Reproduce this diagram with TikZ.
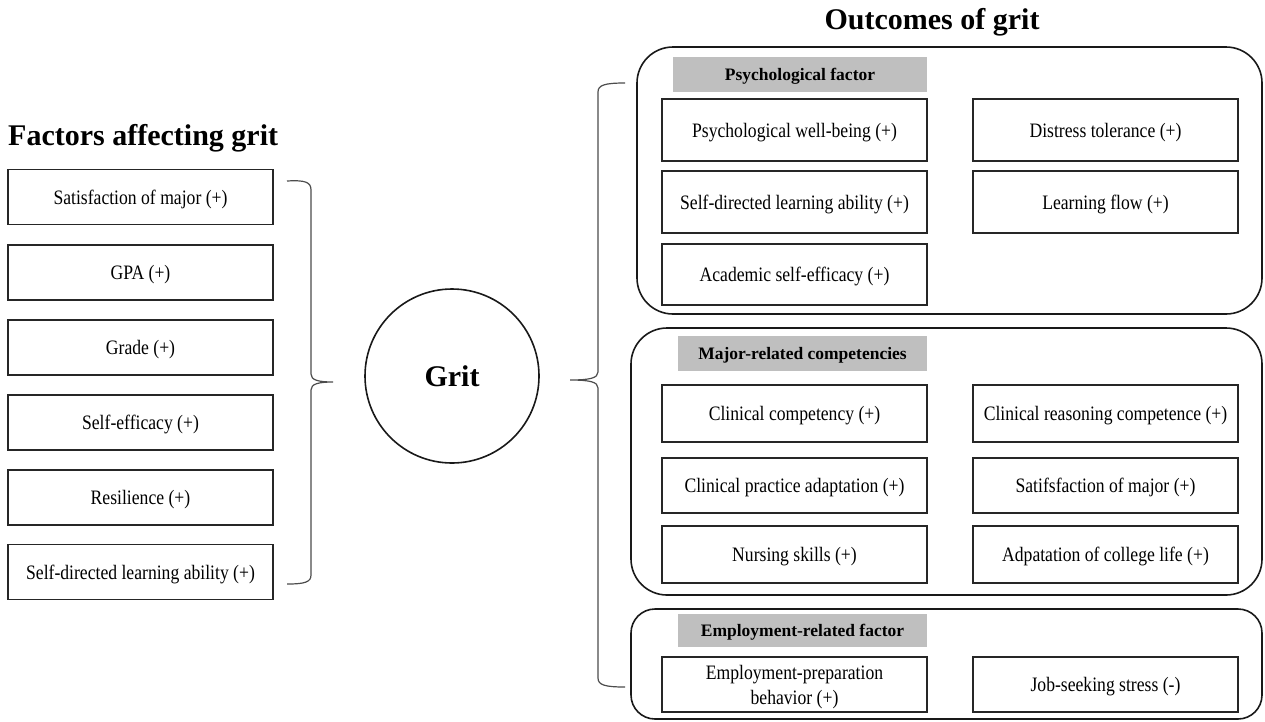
\documentclass[tikz,border=0pt]{standalone}
\usepackage{fontspec}
\setmainfont{Liberation Serif}
\newfontfamily\condserif[FakeStretch=0.86]{Liberation Serif}

\tikzstyle{factor} = [draw=black!85, line width=1.6pt, rectangle,
  minimum width=265pt, minimum height=55pt, inner sep=0pt, text depth=0pt,
  font=\condserif\fontsize{20.5}{25}\selectfont]
\tikzstyle{outcome} = [draw=black!85, line width=1.6pt, rectangle,
  minimum width=265pt, inner sep=0pt, align=center, text depth=0pt,
  font=\condserif\fontsize{20.5}{25}\selectfont]
\tikzstyle{header} = [fill=black!25, rectangle, inner sep=0pt, text depth=0pt,
  font=\bfseries\fontsize{17.5}{21}\selectfont]
\tikzstyle{group} = [draw=black!90, line width=1.6pt, rectangle,
  rounded corners=36pt, inner sep=0pt]
\tikzstyle{title} = [inner sep=0pt, font=\bfseries\fontsize{30}{36}\selectfont]
\tikzstyle{brace} = [draw=black!70, line width=1.2pt]

\begin{document}
\begin{tikzpicture}[x=1pt, y=-1pt]
        \useasboundingbox (0,0) rectangle (1265,721);

        \node [title, anchor=base west] (lefttitle)  at (8,145) {Factors affecting grit};
        \node [title]                   (righttitle) at (932,22) {Outcomes of grit};

        \node [factor] (major)     at (140.5,197.0) {Satisfaction of major (+)};
        \node [factor] (gpa)       at (140.5,272.5) {GPA (+)};
        \node [factor] (grade)     at (140.5,347.5) {Grade (+)};
        \node [factor] (efficacy)  at (140.5,422.5) {Self-efficacy (+)};
        \node [factor] (resil)     at (140.5,497.5) {Resilience (+)};
        \node [factor] (selfdir)   at (140.5,572.0) {Self-directed learning ability (+)};

        \node [draw=black!90, line width=1.6pt, circle, minimum size=174pt,
          font=\bfseries\fontsize{30}{36}\selectfont] (grit) at (452,376) {Grit};

        \node [group] (psychgroup) at (949.5,180.5)
          [minimum width=625pt, minimum height=267pt] {};
        \node [group] (majorgroup) at (946.5,461.5)
          [minimum width=631pt, minimum height=267pt] {};
        \node [group, rounded corners=24pt] (jobgroup) at (946.5,664)
          [minimum width=631pt, minimum height=110pt] {};

        \node [header, minimum width=254pt, minimum height=35pt] (psychhead) at (800,74.5) {Psychological factor};
        \node [header, minimum width=249pt, minimum height=35pt] (majorhead) at (802.5,353.5) {Major-related competencies};
        \node [header, minimum width=249pt, minimum height=33pt] (jobhead)   at (802.5,630.5) {Employment-related factor};

        \node [outcome, minimum height=62pt] (wellbeing) at (794.5,130.0) {Psychological well-being (+)};
        \node [outcome, minimum height=62pt] (distress)  at (1105.5,130.0) {Distress tolerance (+)};
        \node [outcome, minimum height=62pt] (learnself) at (794.5,202.0) {Self-directed learning ability (+)};
        \node [outcome, minimum height=62pt] (flow)      at (1105.5,202.0) {Learning flow (+)};
        \node [outcome, minimum height=61pt] (academic)  at (794.5,274.5) {Academic self-efficacy (+)};

        \node [outcome, minimum height=57pt] (clincomp)  at (794.5,413.5) {Clinical competency (+)};
        \node [outcome, minimum height=57pt] (reasoning) at (1105.5,413.5) {Clinical reasoning competence (+)};
        \node [outcome, minimum height=55pt] (practice)  at (794.5,485.5) {Clinical practice adaptation (+)};
        \node [outcome, minimum height=55pt] (satmajor)  at (1105.5,485.5) {Satifsfaction of major (+)};
        \node [outcome, minimum height=57pt] (nursing)   at (794.5,554.5) {Nursing skills (+)};
        \node [outcome, minimum height=57pt] (college)   at (1105.5,554.5) {Adpatation of college life (+)};

        \node [outcome, minimum height=55pt] (prepare)   at (794.5,684.5) {Employment-preparation\\behavior (+)};
        \node [outcome, minimum height=55pt] (jobstress) at (1105.5,684.5) {Job-seeking stress (-)};

        \draw [brace] (287,181) .. controls (305,180) and (311,182) .. (311,190)
          -- (311,374) .. controls (311,380) and (318,382) .. (333,382)
          .. controls (318,382) and (311,384) .. (311,390)
          -- (311,575) .. controls (311,582) and (305,584) .. (287,584);
        \draw [brace] (625,83) .. controls (605,83) and (598,85) .. (598,92)
          -- (598,372) .. controls (598,378) and (590,380) .. (570,380)
          .. controls (590,380) and (598,382) .. (598,388)
          -- (598,678) .. controls (598,685) and (605,687) .. (625,687);
      \end{tikzpicture}
\end{document}
